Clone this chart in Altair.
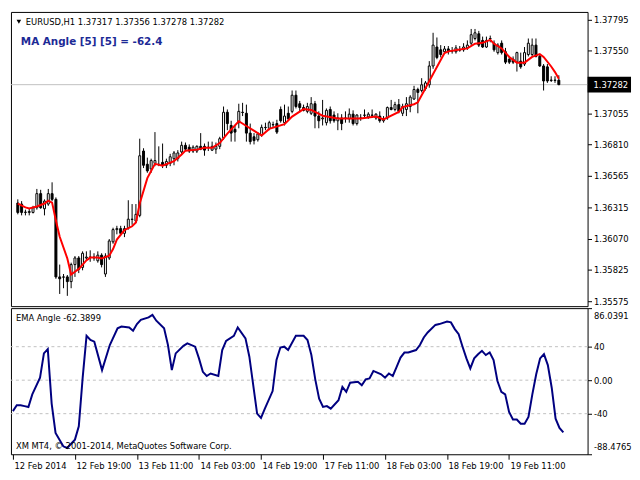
import altair as alt
import pandas as pd

# ---------------- data ----------------
symbol = "EURUSD,H1"
ma_title = "MA Angle [5] [5] = -62.4"
ind_title = "EMA Angle -62.3899"
copyright_txt = "XM MT4, \u00a9 2001-2014, MetaQuotes Software Corp."

open_ = [
    1.36351, 1.36343, 1.36277, 1.36277, 1.36277, 1.36314, 1.36425, 1.36306, 1.36343, 1.36425,
    1.36380, 1.35770, 1.35770, 1.35770, 1.35733, 1.35867, 1.35919, 1.35845, 1.35919, 1.35926,
    1.35919, 1.35897, 1.35941, 1.35793, 1.35919, 1.36046, 1.36142, 1.36150, 1.36113, 1.36157,
    1.36224, 1.36209, 1.36254, 1.36760, 1.36656, 1.36619, 1.36663, 1.36656, 1.36671, 1.36648,
    1.36663, 1.36700, 1.36700, 1.36753, 1.36805, 1.36790, 1.36760, 1.36760, 1.36797, 1.36797,
    1.36790, 1.36767, 1.36775, 1.36797, 1.36864, 1.37065, 1.36961, 1.36931, 1.36983, 1.37065,
    1.37057, 1.36901, 1.36872, 1.36849, 1.36886, 1.36946, 1.36939, 1.36968, 1.36976, 1.37087,
    1.36983, 1.37057, 1.37072, 1.37199, 1.37132, 1.37102, 1.37072, 1.37057, 1.37132, 1.37035,
    1.37013, 1.36983, 1.37087, 1.37043, 1.36998, 1.37020, 1.37020, 1.37013, 1.37050, 1.36976,
    1.37020, 1.37043, 1.37028, 1.37043, 1.37020, 1.37035, 1.36998, 1.37020, 1.37102, 1.37087,
    1.37125, 1.37057, 1.37087, 1.37110, 1.37169, 1.37244, 1.37236, 1.37251, 1.37281, 1.37429,
    1.37578, 1.37556, 1.37541, 1.37563, 1.37548, 1.37541, 1.37556, 1.37556, 1.37571, 1.37608,
    1.37645, 1.37682, 1.37630, 1.37578, 1.37645, 1.37608, 1.37534, 1.37608, 1.37541, 1.37482,
    1.37482, 1.37459, 1.37467, 1.37444, 1.37519, 1.37519, 1.37593, 1.37504, 1.37429, 1.37422,
    1.37318, 1.37318, 1.37317]
high = [
    1.36380, 1.36366, 1.36299, 1.36306, 1.36329, 1.36462, 1.36455, 1.36380, 1.36462, 1.36514,
    1.36395, 1.35867, 1.35793, 1.35785, 1.35882, 1.35934, 1.35934, 1.35971, 1.35971, 1.35979,
    1.35956, 1.35971, 1.35956, 1.35956, 1.36068, 1.36157, 1.36172, 1.36172, 1.36172, 1.36373,
    1.36343, 1.36343, 1.36857, 1.36782, 1.36708, 1.36700, 1.36909, 1.36797, 1.36819, 1.36700,
    1.36738, 1.36760, 1.36767, 1.36834, 1.36827, 1.36812, 1.36805, 1.36805, 1.36901, 1.36819,
    1.36834, 1.36834, 1.36827, 1.36872, 1.37110, 1.37087, 1.36998, 1.36961, 1.37132, 1.37139,
    1.37125, 1.36976, 1.36901, 1.36909, 1.36968, 1.36983, 1.36998, 1.36991, 1.37006, 1.37110,
    1.37125, 1.37110, 1.37236, 1.37236, 1.37154, 1.37125, 1.37139, 1.37184, 1.37154, 1.37072,
    1.37162, 1.37095, 1.37110, 1.37072, 1.37057, 1.37050, 1.37072, 1.37095, 1.37080, 1.37050,
    1.37050, 1.37087, 1.37065, 1.37087, 1.37057, 1.37072, 1.37035, 1.37110, 1.37162, 1.37147,
    1.37169, 1.37132, 1.37184, 1.37199, 1.37273, 1.37258, 1.37333, 1.37311, 1.37467, 1.37690,
    1.37653, 1.37593, 1.37586, 1.37586, 1.37578, 1.37593, 1.37586, 1.37608, 1.37630, 1.37720,
    1.37720, 1.37705, 1.37660, 1.37660, 1.37668, 1.37630, 1.37608, 1.37630, 1.37571, 1.37504,
    1.37504, 1.37541, 1.37534, 1.37578, 1.37645, 1.37645, 1.37645, 1.37519, 1.37444, 1.37444,
    1.37348, 1.37348, 1.37356]
low = [
    1.36262, 1.36254, 1.36254, 1.36254, 1.36269, 1.36299, 1.36306, 1.36254, 1.36329, 1.36366,
    1.35755, 1.35636, 1.35681, 1.35621, 1.35681, 1.35770, 1.35800, 1.35822, 1.35904, 1.35889,
    1.35897, 1.35882, 1.35845, 1.35770, 1.35904, 1.36031, 1.36105, 1.36098, 1.36083, 1.36142,
    1.36180, 1.36195, 1.36239, 1.36626, 1.36589, 1.36589, 1.36641, 1.36641, 1.36626, 1.36626,
    1.36641, 1.36648, 1.36678, 1.36738, 1.36760, 1.36745, 1.36745, 1.36745, 1.36767, 1.36723,
    1.36760, 1.36760, 1.36738, 1.36775, 1.36849, 1.36924, 1.36834, 1.36834, 1.36939, 1.37035,
    1.36834, 1.36812, 1.36812, 1.36834, 1.36872, 1.36924, 1.36924, 1.36946, 1.36894, 1.36983,
    1.36961, 1.36998, 1.37057, 1.37095, 1.37065, 1.37072, 1.37057, 1.37043, 1.36939, 1.36939,
    1.36961, 1.36961, 1.36976, 1.36983, 1.36924, 1.36924, 1.36983, 1.36983, 1.36961, 1.36961,
    1.36998, 1.37013, 1.37013, 1.37020, 1.37006, 1.36983, 1.36983, 1.37006, 1.37080, 1.37072,
    1.37057, 1.37035, 1.37035, 1.37065, 1.37162, 1.37057, 1.37221, 1.37236, 1.37258, 1.37407,
    1.37482, 1.37496, 1.37526, 1.37519, 1.37526, 1.37526, 1.37541, 1.37541, 1.37556, 1.37593,
    1.37630, 1.37578, 1.37571, 1.37571, 1.37615, 1.37541, 1.37519, 1.37519, 1.37444, 1.37444,
    1.37444, 1.37385, 1.37407, 1.37429, 1.37504, 1.37504, 1.37496, 1.37422, 1.37236, 1.37296,
    1.37303, 1.37296, 1.37278]
close_ = [
    1.36277, 1.36277, 1.36280, 1.36284, 1.36314, 1.36425, 1.36314, 1.36366, 1.36425, 1.36380,
    1.35770, 1.35755, 1.35768, 1.35733, 1.35867, 1.35919, 1.35830, 1.35956, 1.35926, 1.35924,
    1.35926, 1.35941, 1.35867, 1.35934, 1.36053, 1.36142, 1.36150, 1.36113, 1.36150, 1.36224,
    1.36222, 1.36262, 1.36723, 1.36648, 1.36604, 1.36685, 1.36685, 1.36653, 1.36648, 1.36678,
    1.36715, 1.36745, 1.36745, 1.36805, 1.36775, 1.36760, 1.36790, 1.36797, 1.36775, 1.36767,
    1.36788, 1.36797, 1.36797, 1.36857, 1.37065, 1.36976, 1.36901, 1.36909, 1.37072, 1.37063,
    1.36901, 1.36834, 1.36842, 1.36894, 1.36946, 1.36944, 1.36983, 1.36966, 1.36909, 1.36998,
    1.37035, 1.37013, 1.37199, 1.37110, 1.37102, 1.37080, 1.37110, 1.37132, 1.37035, 1.36998,
    1.37020, 1.37080, 1.36998, 1.36998, 1.37020, 1.36976, 1.37018, 1.37050, 1.36976, 1.37043,
    1.37018, 1.37041, 1.37050, 1.37041, 1.37050, 1.36998, 1.37013, 1.37102, 1.37087, 1.37125,
    1.37072, 1.37110, 1.37132, 1.37184, 1.37244, 1.37221, 1.37281, 1.37296, 1.37429, 1.37593,
    1.37496, 1.37519, 1.37563, 1.37541, 1.37546, 1.37571, 1.37554, 1.37578, 1.37593, 1.37675,
    1.37690, 1.37593, 1.37578, 1.37630, 1.37643, 1.37556, 1.37593, 1.37534, 1.37459, 1.37459,
    1.37459, 1.37534, 1.37422, 1.37534, 1.37608, 1.37593, 1.37504, 1.37429, 1.37311, 1.37311,
    1.37315, 1.37315, 1.37282]

ma_bar = [0, 2, 3, 5, 7, 8, 9, 10, 11, 13, 14, 15, 16, 18, 19, 21, 22, 24, 25, 26,
          28, 30, 31, 32, 34, 36, 38, 41, 43, 44, 47, 49, 51, 53, 55, 58, 60, 64, 66, 70,
          72, 75, 77, 80, 84, 90, 94, 96, 100, 101, 104, 105, 107, 109, 112, 113, 116, 118, 120, 122,
          124, 125, 127, 129, 131, 133, 135, 137, 138, 140, 141, 142]
ma_val = [1.36347, 1.36317, 1.36309, 1.36324, 1.36347, 1.36369, 1.36354, 1.36213, 1.36086, 1.35915,
          1.35789, 1.35811, 1.35833, 1.35900, 1.35922, 1.35922, 1.35915, 1.35937, 1.35989, 1.36064,
          1.36138, 1.36168, 1.36198, 1.36347, 1.36547, 1.36659, 1.36644, 1.36681, 1.36733, 1.36763,
          1.36771, 1.36785, 1.36785, 1.36823, 1.36897, 1.36994, 1.36957, 1.36882, 1.36934, 1.36971,
          1.37031, 1.37090, 1.37083, 1.37038, 1.37016, 1.37016, 1.37031, 1.37009, 1.37068, 1.37105,
          1.37128, 1.37143, 1.37254, 1.37366, 1.37530, 1.37544, 1.37559, 1.37567, 1.37604, 1.37611,
          1.37634, 1.37604, 1.37567, 1.37500, 1.37455, 1.37455, 1.37500, 1.37522, 1.37500, 1.37425,
          1.37381, 1.37329]

ind_bar = [0, 1, 2, 3, 4, 5, 7, 8, 9, 10, 11, 13, 14, 16, 17, 18, 19, 20, 21, 23,
           25, 27, 28, 30, 31, 32, 33, 35, 36, 37, 39, 40, 41, 42, 44, 45, 47, 48, 49, 50,
           51, 53, 54, 55, 57, 58, 60, 61, 63, 64, 65, 67, 68, 69, 70, 71, 73, 75, 76, 77,
           78, 79, 80, 81, 82, 84, 85, 86, 87, 89, 90, 91, 92, 93, 94, 95, 96, 97, 98, 99,
           100, 101, 102, 104, 105, 106, 107, 109, 110, 112, 113, 114, 115, 116, 117, 118, 119, 120, 121, 122,
           123, 124, 125, 126, 127, 128, 129, 130, 131, 132, 133, 134, 135, 136, 137, 138, 139, 140, 141, 142]
ind_val = [-37, -30, -30, -31, -32, -17, 3, 32, 37, -28, -63, -79, -81, -71, -55, 3, 53, 48, 46, 12,
           42, 62, 64, 63, 59, 67, 72, 75, 78, 71, 62, 42, 12, 32, 41, 44, 40, 26, 10, 5,
           8, 5, 36, 47, 53, 63, 50, 28, -40, -45, -34, -13, 24, 39, 40, 36, 53, 53, 48, 30,
           1, -22, -32, -31, -34, -24, -8, -14, -3, -2, -6, 1, 2, 11, 9, 7, 3, 8, 5, 16,
           27, 33, 33, 36, 42, 51, 57, 66, 67, 70, 69, 61, 55, 40, 26, 14, 26, 31, 35, 30,
           33, 24, -1, -14, -17, -38, -47, -47, -52, -52, -44, -17, 7, 26, 31, 18, -9, -46, -57, -62.3899]

price_ticks = [1.35575, 1.35825, 1.36070, 1.36315, 1.36565, 1.36810, 1.37055, 1.37550, 1.37795]
ind_ticks = [86.0391, 40, 0, -40, -88.4765]
ind_tick_labels = ["86.0391", "40", "0.00", "-40", "-88.4765"]
time_tick_bars = [0, 16, 32, 48, 64, 80, 96, 112, 128]
time_tick_labels = ["12 Feb 2014", "12 Feb 19:00", "13 Feb 11:00", "14 Feb 03:00", "14 Feb 19:00",
                    "17 Feb 11:00", "18 Feb 03:00", "18 Feb 19:00", "19 Feb 11:00"]
grid_levels = [40, 0, -40]
last_price = close_[-1]

# ---------------- layout ----------------
W, H1, H2 = 584, 298, 148
FONT = "DejaVu Sans"
FS = 8.5

candles = pd.DataFrame({"bar": list(range(len(close_))), "open": open_, "high": high,
                        "low": low, "close": close_})
candles["body_top"] = candles[["open", "close"]].max(axis=1)
candles["body_bot"] = candles[["open", "close"]].min(axis=1)
candles["bull"] = candles["close"] >= candles["open"]

ma_df = pd.DataFrame({"bar": ma_bar, "v": ma_val})
ind_df = pd.DataFrame({"bar": ind_bar, "v": ind_val})
last_df = pd.DataFrame({"p": [last_price]})
grid_df = pd.DataFrame({"g": grid_levels})

x_scale = alt.Scale(domain=[-0.5, 148.25], nice=False, zero=False)
top_scale = alt.Scale(domain=[1.35540, 1.37854], nice=False, zero=False)
ind_scale = alt.Scale(domain=[-88.4765, 86.0391], nice=False, zero=False)

top_axis = alt.Axis(orient="right", values=price_ticks, format=".5f", title=None, grid=False,
                    domain=False, tickColor="black", tickSize=4, labelColor="black",
                    labelFont=FONT, labelFontSize=FS, labelPadding=2, labelFlush=False)

ind_expr = " : ".join(f"abs(datum.value - ({v})) < 0.001 ? '{s}'" for v, s in zip(ind_ticks, ind_tick_labels)) + " : ''"
ind_axis = alt.Axis(orient="right", values=ind_ticks, labelExpr=ind_expr, title=None, grid=False,
                    domain=False, tickColor="black", tickSize=4, labelColor="black",
                    labelFont=FONT, labelFontSize=FS, labelPadding=2, labelFlush=True,
                    labelFlushOffset=-3)

time_expr = " : ".join(f"datum.value == {b} ? '{s}'" for b, s in zip(time_tick_bars, time_tick_labels)) + " : ''"
time_axis = alt.Axis(values=time_tick_bars, labelExpr=time_expr, title=None, grid=False, domain=False,
                     tickColor="black", tickSize=5, labelColor="black", labelFont=FONT,
                     labelFontSize=FS, labelAlign="left", labelFlush=False, labelPadding=2,
                     labelOffset=1)

X_top = alt.X("bar:Q", scale=x_scale, axis=None)

price_line = alt.Chart(last_df).mark_rule(color="#c0c0c0", strokeWidth=1).encode(
    y=alt.Y("p:Q", scale=top_scale, axis=top_axis))

wicks = alt.Chart(candles).mark_rule(color="black", strokeWidth=1).encode(
    x=X_top, y=alt.Y("low:Q", scale=top_scale, axis=top_axis), y2="high:Q")

bodies = alt.Chart(candles).mark_bar(size=2, stroke="black", strokeWidth=1).encode(
    x=X_top, y=alt.Y("body_bot:Q", scale=top_scale, axis=top_axis), y2="body_top:Q",
    fill=alt.condition("datum.bull", alt.value("white"), alt.value("black")))

ma_line = alt.Chart(ma_df).mark_line(color="#ff0000", strokeWidth=2).encode(
    x=X_top, y=alt.Y("v:Q", scale=top_scale, axis=top_axis))

price_box = alt.Chart(last_df).mark_rect(color="black", yOffset=-8, y2Offset=8).encode(
    x=alt.value(W), x2=alt.value(W + 44),
    y=alt.Y("p:Q", scale=top_scale, axis=top_axis), y2="p:Q")

price_text = alt.Chart(last_df).mark_text(color="white", align="left", baseline="middle",
                                           font=FONT, fontSize=FS).encode(
    x=alt.value(W + 6), y=alt.Y("p:Q", scale=top_scale, axis=top_axis),
    text=alt.Text("p:Q", format=".5f"))

header_txt = f"{symbol}  {open_[-1]:.5f} {high[-1]:.5f} {low[-1]:.5f} {close_[-1]:.5f}"
one = pd.DataFrame({"k": [0]})
header_tri = alt.Chart(one).mark_point(shape="triangle-down", filled=True, color="black",
                                       size=22, opacity=1).encode(x=alt.value(8), y=alt.value(10))
header = alt.Chart(one).mark_text(align="left", baseline="middle", font=FONT, fontSize=FS,
                                  color="black").encode(
    x=alt.value(15), y=alt.value(10), text=alt.value(header_txt))
ma_label = alt.Chart(one).mark_text(align="left", baseline="middle", font=FONT, fontSize=10.5,
                                    fontWeight="bold", color="#1c2a96").encode(
    x=alt.value(10), y=alt.value(30), text=alt.value(ma_title))

top = alt.layer(price_line, wicks, bodies, ma_line, price_box, price_text,
                header_tri, header, ma_label).properties(width=W, height=H1)

X_bot = alt.X("bar:Q", scale=x_scale, axis=time_axis)

grid = alt.Chart(grid_df).mark_rule(color="#c0c0c0", strokeDash=[3, 3], strokeWidth=1).encode(
    y=alt.Y("g:Q", scale=ind_scale, axis=ind_axis))
ind_line = alt.Chart(ind_df).mark_line(color="#000080", strokeWidth=2).encode(
    x=X_bot, y=alt.Y("v:Q", scale=ind_scale, axis=ind_axis))
ind_label = alt.Chart(one).mark_text(align="left", baseline="middle", font=FONT, fontSize=FS,
                                     color="black").encode(
    x=alt.value(5), y=alt.value(10), text=alt.value(ind_title))
copy_label = alt.Chart(one).mark_text(align="left", baseline="middle", font=FONT, fontSize=FS,
                                      color="black").encode(
    x=alt.value(5), y=alt.value(H2 - 8), text=alt.value(copyright_txt))

bottom = alt.layer(grid, ind_line, ind_label, copy_label).properties(width=W, height=H2)

chart = alt.vconcat(top, bottom, spacing=2, bounds="flush").properties(
    padding=0, background="white"
).configure_view(stroke="black", strokeWidth=1)

chart.save("out.html", embed_options={"renderer": "svg", "actions": False})
